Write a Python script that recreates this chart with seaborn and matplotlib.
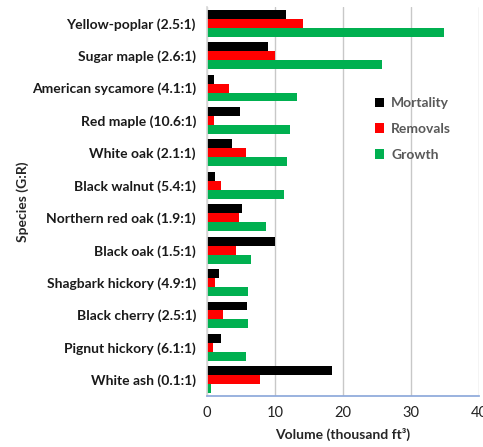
import matplotlib
matplotlib.use("Agg")
import matplotlib.pyplot as plt
import seaborn as sns
import pandas as pd

species = ["Yellow-poplar (2.5:1)", "Sugar maple (2.6:1)", "American sycamore (4.1:1)",
           "Red maple (10.6:1)", "White oak (2.1:1)", "Black walnut (5.4:1)",
           "Northern red oak (1.9:1)", "Black oak (1.5:1)", "Shagbark hickory (4.9:1)",
           "Black cherry (2.5:1)", "Pignut hickory (6.1:1)", "White ash (0.1:1)"]
mortality = [11.6, 9.0, 1.1, 4.9, 3.7, 1.2, 5.2, 10.0, 1.8, 5.9, 2.1, 18.4]
removals = [14.1, 10.05, 3.3, 1.1, 5.7, 2.1, 4.7, 4.2, 1.2, 2.4, 0.9, 7.85]
growth = [34.9, 25.7, 13.3, 12.2, 11.8, 11.3, 8.7, 6.4, 6.0, 6.0, 5.8, 0.55]
series = ["Mortality", "Removals", "Growth"]
colors = ["#000000", "#FF0000", "#00B050"]

df = pd.DataFrame({"Species": species, "Mortality": mortality,
                   "Removals": removals, "Growth": growth})
long = df.melt(id_vars="Species", var_name="Series", value_name="Volume")

sns.set_theme(style="white")
plt.rcParams['font.family'] = ['Lato', 'DejaVu Sans']

fig = plt.figure(figsize=(4.83, 4.47), dpi=100)
ax = fig.add_axes([207/483, 1-396/447, 272/483, 389/447])

sns.barplot(data=long, y="Species", x="Volume", hue="Series", order=species,
            hue_order=series, palette=colors, orient="h", width=0.83,
            saturation=1, linewidth=0, ax=ax, legend=True)

ax.set_xlim(0, 40)
ax.set_xticks([0, 10, 20, 30, 40])
ax.xaxis.grid(True, color="#C8C8C8", linewidth=1)
ax.set_axisbelow(True)
for s in ["top", "right"]:
    ax.spines[s].set_visible(False)
ax.spines["left"].set_color("#D9D9D9")
ax.spines["bottom"].set_color("#8EA9DB")
ax.tick_params(axis="x", labelsize=10.5, length=0, pad=7)
ax.tick_params(axis="y", length=0, pad=8)
for t in ax.get_yticklabels():
    t.set_fontweight("bold")
    t.set_fontsize(10)
    t.set_color("#1a1a1a")
for t in ax.get_xticklabels():
    t.set_color("#222222")

ax.set_xlabel("Volume (thousand ft³)", fontsize=10, fontweight="bold", labelpad=6)
ax.set_ylabel("Species (G:R)", fontsize=10, fontweight="bold", labelpad=2)

leg = ax.legend(loc="upper left", bbox_to_anchor=(0.57, 0.8), frameon=False,
                handlelength=0.7, handleheight=0.7, labelspacing=1.0,
                handletextpad=0.5, prop={"weight": "bold", "size": 10})
for t in leg.get_texts():
    t.set_color("#595959")

fig.savefig("out.png", dpi=100)
